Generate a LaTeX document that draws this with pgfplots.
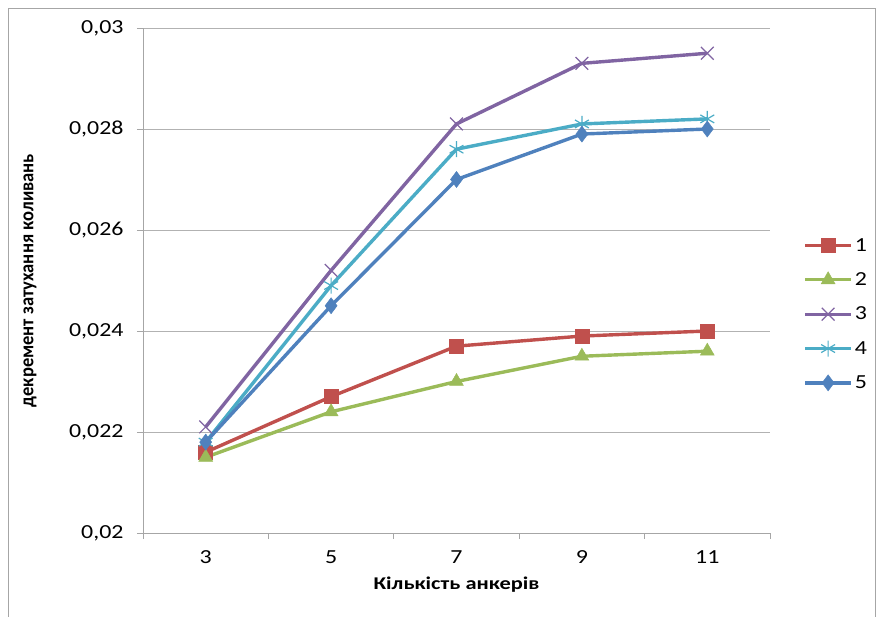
\documentclass[border=0pt]{standalone}
\usepackage{fontspec}
\setmainfont{Carlito}[FakeStretch=1.2]
\newfontfamily\xlabfont{Carlito}[FakeStretch=1.25]
\newfontfamily\ylabfont{Carlito}[FakeStretch=0.93]
\usepackage{pgfplots}
\pgfplotsset{compat=1.18}

\definecolor{s1}{HTML}{C0504D}
\definecolor{s2}{HTML}{9BBB59}
\definecolor{s3}{HTML}{8064A2}
\definecolor{s4}{HTML}{4BACC6}
\definecolor{s5}{HTML}{4F81BD}

\begin{document}
\begin{tikzpicture}
% page = 883 x 617 bp, plot area corner at (143,533) in image pixels
\useasboundingbox (-143bp,-84bp) rectangle (740bp,533bp);
\draw[gray!70, line width=0.8bp] (-135bp,-100bp) -- (-135bp,525bp) -- (732bp,525bp) -- (732bp,-100bp);
\begin{axis}[
    name=ax,
    at={(0,0)}, anchor=south west,
    scale only axis,
    width=627bp, height=505bp,
    xmin=-0.5, xmax=4.5,
    ymin=0.02, ymax=0.03,
    xtick={0,1,2,3,4},
    xticklabels={3,5,7,9,11},
    minor xtick={-0.5,0.5,1.5,2.5,3.5,4.5},
    ytick={0.02,0.022,0.024,0.026,0.028,0.03},
    scaled y ticks=false,
    yticklabel style={xshift=-10bp, /pgf/number format/.cd, fixed, precision=3, use comma, assume math mode=true},
    tick label style={font=\fontsize{20}{22}\selectfont},
    axis lines*=left,
    axis line style={gray!70, line width=0.8bp},
    tick align=outside,
    x tick style={draw=none},
    minor x tick style={draw=gray!70, line width=0.8bp},
    minor tick length=6bp,
    y tick style={gray!70, line width=0.8bp},
    major tick length=6bp,
    ymajorgrids,
    grid style={gray!60, line width=0.8bp},
    xticklabel style={yshift=-8bp},
    xlabel={\xlabfont\bfseries Кількість анкерів},
    ylabel={\ylabfont\bfseries декремент затухання коливань},
    xlabel style={font=\fontsize{18}{20}\selectfont, at={(axis description cs:0.5,-0.103)}, anchor=center},
    ylabel style={font=\fontsize{20}{22}\selectfont, at={(axis description cs:-0.180,0.5)}, anchor=center},
    legend style={at={(axis description cs:1.053,0.588)}, anchor=north west,
        draw=none, fill=none, font=\fontsize{20}{22}\selectfont,
        row sep=16bp, inner sep=0pt,
        nodes={inner sep=2bp}},
    legend cell align=left,
    legend image code/.code={\draw[mark repeat=2,mark phase=2] plot coordinates {(0bp,0bp)(23bp,0bp)(46bp,0bp)};},
]
\addplot[color=s1, line width=3.4bp, mark=square*, mark size=7bp, mark options={line width=0.5bp}] coordinates {
    (0,0.0216) (1,0.0227) (2,0.0237) (3,0.0239) (4,0.0240)};
\addlegendentry{1}
\addplot[color=s2, line width=3.4bp, mark=triangle*, mark size=8bp, mark options={line width=0.5bp}] coordinates {
    (0,0.0215) (1,0.0224) (2,0.0230) (3,0.0235) (4,0.0236)};
\addlegendentry{2}
\addplot[color=s3, line width=3.4bp, mark=x, mark size=9bp, mark options={line width=1.2bp}] coordinates {
    (0,0.0221) (1,0.0252) (2,0.0281) (3,0.0293) (4,0.0295)};
\addlegendentry{3}
\addplot[color=s4, line width=3.4bp, mark=asterisk, mark size=8bp, mark options={line width=1.2bp}] coordinates {
    (0,0.0218) (1,0.0249) (2,0.0276) (3,0.0281) (4,0.0282)};
\addlegendentry{4}
\addplot[color=s5, line width=3.4bp, mark=diamond*, mark size=8bp, mark options={line width=0.5bp}] coordinates {
    (0,0.0218) (1,0.0245) (2,0.0270) (3,0.0279) (4,0.0280)};
\addlegendentry{5}
\end{axis}
\end{tikzpicture}
\end{document}
